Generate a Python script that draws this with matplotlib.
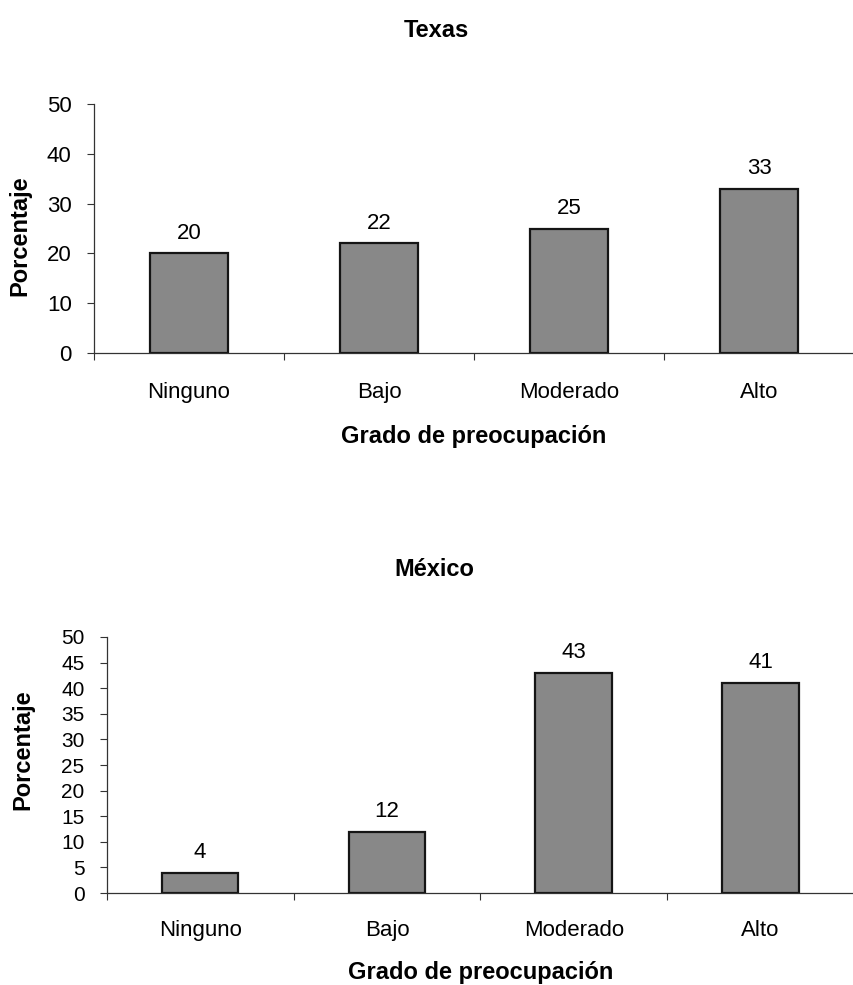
import numpy as np
import matplotlib
matplotlib.use('Agg')
import matplotlib.pyplot as plt

plt.rcParams['font.family'] = ['Liberation Sans', 'DejaVu Sans']

categorias = ['Ninguno', 'Bajo', 'Moderado', 'Alto']
texas = [20, 22, 25, 33]
mexico = [4, 12, 43, 41]

fig = plt.figure(figsize=(8.54, 9.85), dpi=100)

def panel(rect, xmax, valores, paso, tick_fs, cat_pad, ylab_xy, xlab_y):
    ax = fig.add_axes(rect)
    x = np.arange(len(categorias))
    ax.bar(x, valores, width=0.41, color='#888888', edgecolor='#151515', linewidth=1.6)
    for xi, v in zip(x, valores):
        ax.annotate(str(v), (xi, v), xytext=(0, 7), textcoords='offset points',
                    ha='center', va='bottom', fontsize=16)
    ax.set_xlim(-0.5, xmax)
    ax.set_ylim(0, 50)
    ax.set_yticks(np.arange(0, 51, paso))
    ax.set_xticks(x)
    ax.set_xticklabels(categorias, fontsize=16)
    ax.set_xticks(np.arange(-0.5, len(categorias), 1), minor=True)
    ax.tick_params(axis='x', which='major', length=0, pad=cat_pad)
    ax.tick_params(axis='x', which='minor', length=5, direction='out', width=0.8, color='#333333')
    ax.tick_params(axis='y', labelsize=tick_fs, length=5, width=0.8, pad=11, color='#333333')
    for s in ['top', 'right']:
        ax.spines[s].set_visible(False)
    for s in ['left', 'bottom']:
        ax.spines[s].set_linewidth(0.9)
        ax.spines[s].set_color('#333333')
    ax.set_ylabel('Porcentaje', fontsize=17, fontweight='bold')
    ax.yaxis.set_label_coords(*ylab_xy)
    ax.set_xlabel('Grado de preocupación', fontsize=17, fontweight='bold')
    ax.xaxis.set_label_coords(0.5, xlab_y)
    return ax

panel([0.110, 0.6416, 0.890, 0.2528], 3.458, texas, 10, 16, 21, (-0.082, 0.47), -0.289)
panel([0.125, 0.0934, 0.875, 0.2599], 3.43, mexico, 5, 15, 19.5, (-0.097, 0.559), -0.266)

fig.text(0.511, 0.9624, 'Texas', ha='center', va='baseline', fontsize=17, fontweight='bold')
fig.text(0.509, 0.4152, 'México', ha='center', va='baseline', fontsize=17, fontweight='bold')

fig.savefig('out.png', dpi=100)
